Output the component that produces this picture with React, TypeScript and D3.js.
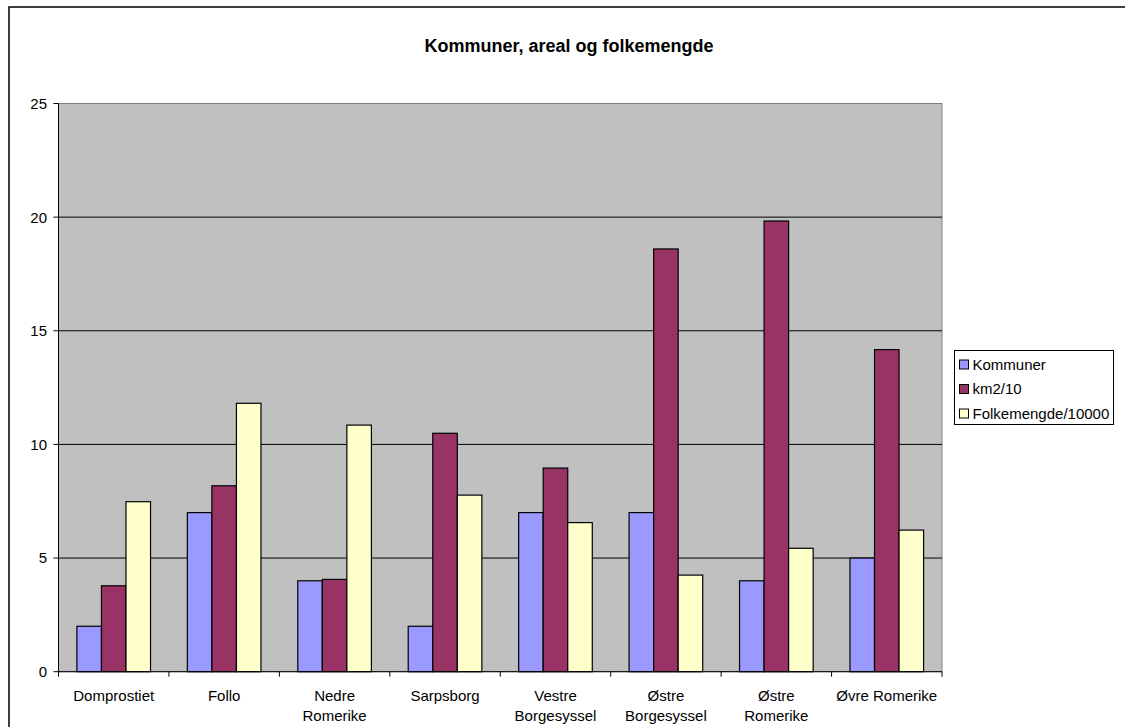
import React from "react";
import * as d3 from "d3";

const categories = [
  "Domprostiet",
  "Follo",
  "Nedre\nRomerike",
  "Sarpsborg",
  "Vestre\nBorgesyssel",
  "Østre\nBorgesyssel",
  "Østre\nRomerike",
  "Øvre Romerike",
];
const seriesNames = ["Kommuner", "km2/10", "Folkemengde/10000"];
const kommuner = [2, 7, 4, 2, 7, 7, 4, 5];
const km2 = [3.78, 8.18, 4.06, 10.49, 8.96, 18.6, 19.83, 14.17];
const folkemengde = [7.48, 11.81, 10.85, 7.77, 6.56, 4.25, 5.43, 6.23];
const yTicks = [0, 5, 10, 15, 20, 25];
const title = "Kommuner, areal og folkemengde";

const colors = ["#9999FF", "#993366", "#FFFFCC"];
const FONT = "'Liberation Sans', Arial, Helvetica, sans-serif";

export default function App() {
  const W = 1125;
  const H = 727;
  const left = 58.5;
  const right = 942;
  const top = 103.5;
  const bottom = 671.7;

  const series = [kommuner, km2, folkemengde];

  const x = d3
    .scaleBand<string>()
    .domain(categories)
    .range([left, right])
    .paddingInner(1 / 3)
    .paddingOuter(1 / 6);
  const xs = d3
    .scaleBand<number>()
    .domain(d3.range(series.length))
    .range([0, x.bandwidth()])
    .padding(0);
  const y = d3.scaleLinear().domain([0, 25]).range([bottom, top]);

  const step = x.step();
  const tickXs = d3.range(categories.length + 1).map((i) => left + i * step);

  return (
    <svg
      width={W}
      height={H}
      style={{ position: "absolute", left: 0, top: 0, display: "block", background: "#fff" }}
      fontFamily={FONT}
    >
      <rect x={9} y={7} width={W + 20} height={H + 20} fill="#fff" stroke="#000" strokeWidth={1.5} />
      <text x={569} y={51.5} textAnchor="middle" fontSize={18} fontWeight="bold" fill="#000">
        {title}
      </text>

      {/* plot area */}
      <rect x={left} y={top} width={right - left} height={bottom - top} fill="#C0C0C0" stroke="#808080" strokeWidth={1} />

      {/* gridlines */}
      {yTicks.filter((t) => t > 0 && t < 25).map((t) => (
        <line key={t} x1={left} x2={right} y1={y(t)} y2={y(t)} stroke="#000" strokeWidth={1} />
      ))}

      {/* bars */}
      {categories.map((c, i) => (
        <g key={c}>
          {series.map((s, j) => (
            <rect
              key={j}
              x={(x(c) as number) + (xs(j) as number)}
              y={y(s[i])}
              width={xs.bandwidth()}
              height={bottom - y(s[i])}
              fill={colors[j]}
              stroke="#000"
              strokeWidth={1.2}
            />
          ))}
        </g>
      ))}

      {/* axes */}
      <line x1={left} x2={left} y1={top} y2={bottom} stroke="#000" strokeWidth={1} />
      <line x1={left} x2={right} y1={bottom} y2={bottom} stroke="#000" strokeWidth={1} />
      {yTicks.map((t) => (
        <g key={t}>
          <line x1={left - 5} x2={left} y1={y(t)} y2={y(t)} stroke="#000" strokeWidth={1} />
          <text x={47} y={y(t)} dy="0.36em" textAnchor="end" fontSize={15} fill="#000">
            {t}
          </text>
        </g>
      ))}
      {tickXs.map((tx, i) => (
        <line key={i} x1={tx} x2={tx} y1={bottom} y2={bottom + 5} stroke="#000" strokeWidth={1} />
      ))}
      {categories.map((c) => {
        const cx = (x(c) as number) + x.bandwidth() / 2;
        const lines = c.split("\n");
        return (
          <text key={c} x={cx} y={701} textAnchor="middle" fontSize={15} fill="#000">
            {lines.map((l, k) => (
              <tspan key={k} x={cx} dy={k === 0 ? 0 : 20}>
                {l}
              </tspan>
            ))}
          </text>
        );
      })}

      {/* legend */}
      <rect x={954.5} y={350.5} width={159} height={74} fill="#fff" stroke="#000" strokeWidth={1} />
      {seriesNames.map((n, j) => {
        const cy = 364.5 + j * 24.5;
        return (
          <g key={n}>
            <rect x={959.5} y={cy - 4.5} width={9} height={9} fill={colors[j]} stroke="#000" strokeWidth={1} />
            <text x={972.5} y={cy + 5} fontSize={15} fill="#000">
              {n}
            </text>
          </g>
        );
      })}
    </svg>
  );
}
